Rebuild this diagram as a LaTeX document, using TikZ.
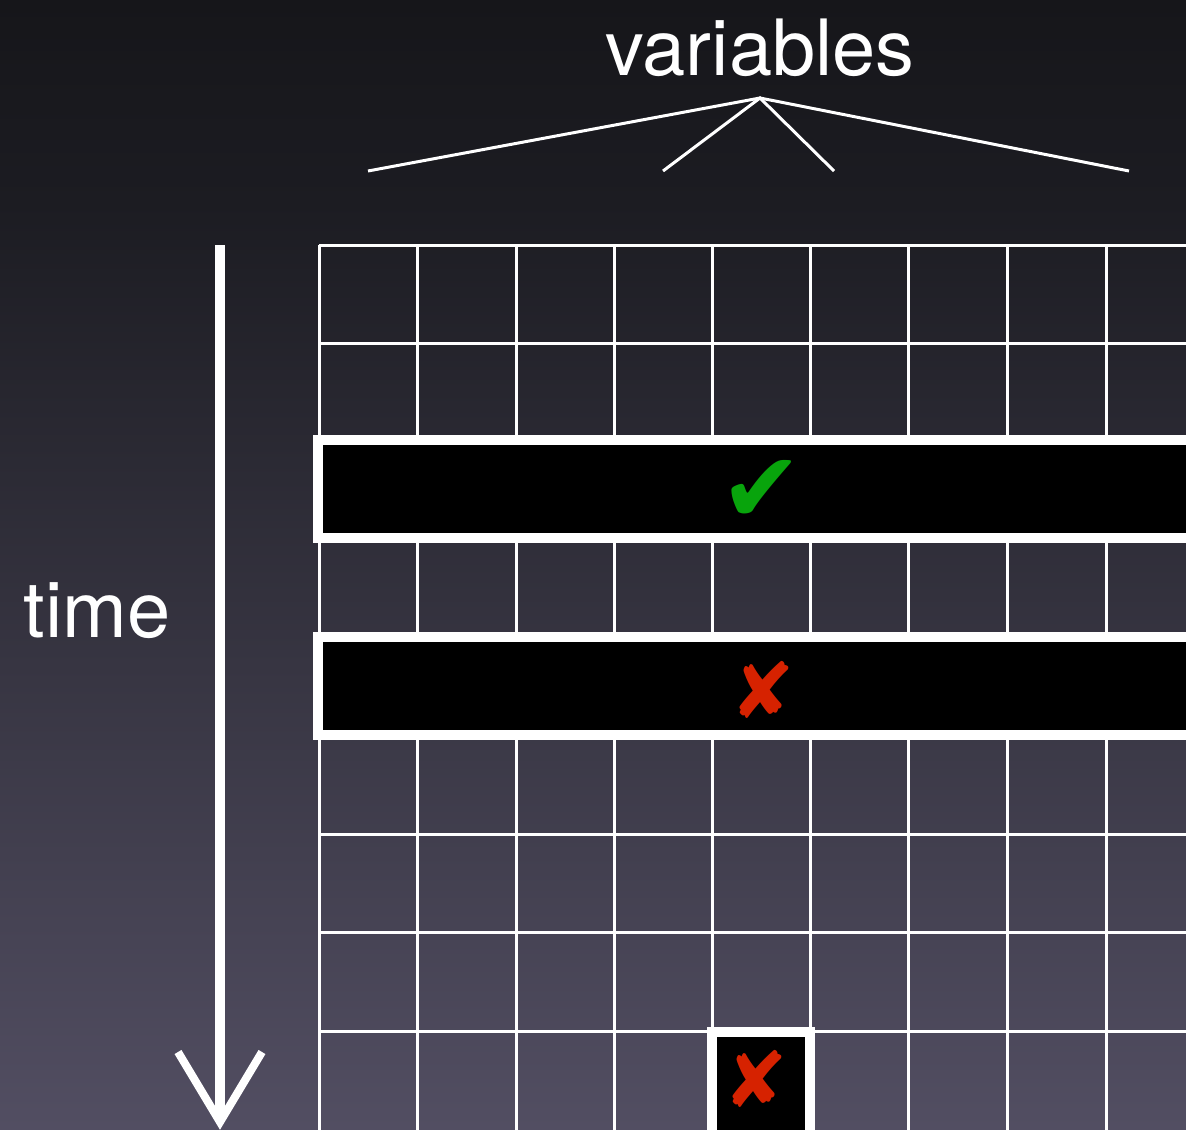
\documentclass[tikz,border=0pt]{standalone}
\usepackage{fontspec}
\setmainfont{TeX Gyre Heros}
\newfontfamily\symf{DejaVu Sans}
\definecolor{bgtop}{RGB}{22,22,26}
\definecolor{bgmid}{RGB}{28,28,34}
\definecolor{bgbot}{RGB}{82,78,98}
\definecolor{okgreen}{RGB}{8,164,12}
\definecolor{badred}{RGB}{214,34,0}
\pgfdeclareverticalshading{bgshade}{100bp}{color(0bp)=(bgbot); color(25bp)=(bgbot); color(66bp)=(bgmid); color(75bp)=(bgtop); color(100bp)=(bgtop)}
\tikzset{
  label text/.style={text=white, font=\fontsize{44.2}{50}\selectfont, inner sep=0pt, anchor=base},
  gridline/.style={draw=white, line width=0.06cm},
  bracket/.style={draw=white, line width=0.06cm},
  band/.style={draw=white, fill=black, line width=0.2cm},
  check glyph/.style={inner sep=0pt, font=\symf\fontsize{56}{56}\selectfont},
  cross glyph/.style={inner sep=0pt, font=\symf\fontsize{44}{44}\selectfont},
  timeline/.style={draw=white, line width=0.2cm},
  timehead/.style={draw=white, line width=0.16cm, line join=miter}
}
\begin{document}
\begin{tikzpicture}[x=0.02cm,y=-0.02cm]
\useasboundingbox (0,0) rectangle (1186,1129);
\clip (0,0) rectangle (1186,1129);
\shade[shading=bgshade] (0,0) rectangle (1186,1129);
% grid
\foreach \x in {319,417,516,614,712,810,908,1007,1106}
  \draw[gridline] (\x,245) -- (\x,1140);
\foreach \y in {245,343,440,538,637,735,834,932,1031}
  \draw[gridline] (319,\y) -- (1200,\y);
% bands
\draw[band] (318,440) rectangle (1200,538);
\draw[band] (318,637) rectangle (1200,735);
\draw[band] (712,1032) rectangle (810,1145);
% marks
\node[check glyph, text=okgreen] (ok) at (762,491) {✔};
\node[cross glyph, text=badred] (bad1) at (763,690) {✘};
\node[cross glyph, text=badred] (bad2) at (756,1079) {✘};
% labels
\node[label text] (vars) at (760,75) {variables};
\node[label text] (time) at (97,637) {time};
% bracket
\coordinate (apex) at (760,98);
\coordinate (b1) at (368,171);
\coordinate (b2) at (663,171);
\coordinate (b3) at (834,171);
\coordinate (b4) at (1129,171);
\draw[bracket] (b1) -- (apex) -- (b4);
\draw[bracket] (b2) -- (apex) -- (b3);
% time arrow
\coordinate (tstart) at (220,245);
\coordinate (tend) at (220,1122);
\coordinate (hl) at (178,1052);
\coordinate (hr) at (262,1052);
\draw[timeline] (tstart) -- (tend);
\draw[timehead] (hl) -- (tend) -- (hr);
\end{tikzpicture}
\end{document}
